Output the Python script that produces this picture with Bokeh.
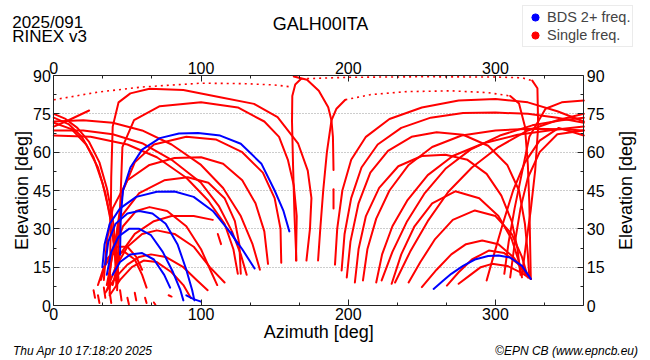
import math
from bokeh.plotting import figure
from bokeh.models import Range1d, LinearAxis, FixedTicker, Label, Legend, LegendItem
from bokeh.embed import file_html
from bokeh.resources import INLINE

# ---------------- data: satellite tracks as (azimuth, elevation) pairs ----------------
red_tracks = [
    # left fan, rising from the NE cluster and setting towards the SE
    [(38,4),(38.5,25),(39,50),(40,70),(44,79.5),(52,83),(65,84.8),(88,84.3),(113,81.5),(136,78.9),(152,73.7),(166,63.3),(172.5,52.8),(175,42),(174,30),(171.6,17.6)],
    [(43,6),(44,25),(45.5,45),(46.6,62),(54.5,72.5),(72,78),(100,79.5),(125,77.5),(143,72),(153,66),(159,57),(163,47),(165,35),(164.5,17.6)],
    [(42,10),(43,30),(47,45),(55,56),(68,63),(90,66),(110,65),(128,60),(142,52),(150,42),(154,30),(154.5,16.7)],
    [(34,10),(36,25),(40,38),(50,49),(65,55),(82,57.7),(100,58),(115,55.5),(128,49),(137,40),(143,29),(145.5,16.3)],
    [(37,8),(40,22),(46,35),(58,44),(75,49),(91,50.2),(105,48),(116,42),(123,33),(126,24),(127,12.4)],
    [(36,8),(40,20),(47,31),(56,37),(65,38.5),(77,37),(90,31),(100,22),(107,13),(111,8)],
    [(40,8),(45,20),(55,28),(68,33),(80,35),(95,35),(108,33.5)],
    [(36,6),(42,15),(50,23),(60,28),(70,29.4),(82,28),(95,23),(106,15),(116,9)],
    [(35,5),(42,11),(50,16),(58,19),(66,20),(76,19),(88,15),(97,10),(104.5,6)],
    [(38,4),(45,10),(53,15),(61,17.6),(70,17),(80,13),(88,8),(93,3)],
    [(30,8),(34,15),(40,20),(48,21),(55,18),(60,12),(63,7)],
    [(32,10),(36,18),(43,23),(50,23),(56,19),(60,14)],
    [(111.4,28),(113.6,24)],
    # near-zenith pass and crossing tracks
    [(164.8,17.6),(163.5,35),(162.5,55),(161.8,72),(162,82),(164,86.5),(168,88.7)],
    [(325,88),(328.5,85),(329,70),(327,53),(323.9,37),(320.5,23),(318,12)],
    [(163,89.6),(172,88.3),(180,84),(186.4,77.6),(188.6,72.4),(189.6,66),(190,53)],
    [(190,45.5),(190,38)],
    [(179.5,17.6),(181,30),(183,45),(185.5,60),(188.6,72.4),(192,77),(198,80.5)],
    [(310,82),(316,79),(320,70),(322,55),(323,40),(323.5,25),(324,10.4)],
    [(306,12.4),(309,25),(313,38),(318,52),(323,66),(334,77),(345,79.5),(360,80.2)],
    # right fan
    [(191,16),(192.5,30),(196,45),(202,57),(212,66),(228,73),(250,77.5),(275,80.2),(300,80.8),(322,79.5),(342,76),(360,72)],
    [(195.5,13.7),(197.5,28),(202,42),(209,54),(220,63),(236,69.5),(256,73.5),(278,75.3),(300,75.5),(322,75),(342,73.5),(360,71.5)],
    [(199,11),(201.5,25),(207,40),(215,52),(227,60.5),(243,66),(260,67.8),(278,66.8),(295,62.5),(308,55),(316,45),(320,32),(322,20),(323,11)],
    [(204.5,9),(207,22),(212,35),(221,46),(234,54.5),(250,58.5),(266,59),(281,57),(294,51.5),(304,43),(311,33),(315,22),(317,12)],
    [(210,9.8),(213,22),(219,34),(228,45),(241,55),(257,62),(277,66.5),(300,68.5),(325,69.2),(345,69),(360,68.5)],
    [(219,9),(223,20),(230,31),(240,41),(254,51),(271,58.5),(292,63.5),(315,66.8),(340,68.8),(360,70)],
    [(222.7,9.8),(230,21),(240,33),(252,44),(266,53.5),(283,61),(303,66.5),(325,70.5),(345,72.5),(360,73.5)],
    [(229.5,8.5),(236,20),(245,31),(257,40),(272.7,44.7),(289,42),(302,35),(311,26),(316,17),(318,11)],
    [(231.8,9),(242,21),(254,33),(268,44.5),(284,54),(302,62),(322,68.5),(342,72.5),(360,75)],
    [(241,9),(249,17),(259,26),(271,33.5),(286,37.2),(300,35),(311,28),(318,19),(322,11)],
    [(250,7.2),(260,14),(270,20),(280,24),(291,25.4),(302,24),(312,19),(320,13),(324,10.4)],
    [(267,7.8),(275,13),(284,18),(295.5,21.5),(306,20.5),(315,16.5),(321,12)],
    [(275,8.5),(283,12),(290,15),(297.7,16.3),(308,15.5),(317,13),(324,10.4)],
    [(294,9.8),(299,20),(305,32),(312,45),(320,56),(330,64.5),(343,69.5),(360,66.5)],
    [(310,11),(313,24),(317,38),(322,50),(330,60),(342,67),(360,68.5)],
    # continuation after the 360/0 wrap
    [(0,72),(20,72.5),(40,71.5),(60,68.5),(80,63),(100,55),(115,46),(127,35),(135,24),(140,14)],
    [(0,68.5),(20,68.5),(40,67),(60,63.5),(80,57),(100,48),(112,39),(121,29),(127,20),(131,12)],
    [(0,66.5),(25,66),(50,63),(70,58),(90,50),(105,41),(116,32),(122,22),(125,12.4)],
    [(0,75),(8,73),(16,69.5),(24,64),(31,56),(36,46),(40,34),(42.5,22),(44,10)],
    [(0,73.5),(10,71),(19,66),(27,58),(33,48),(38,36),(41,24),(43,12)],
    [(0,71.5),(12,69),(22,63),(30,54),(35,44),(39,32),(41.5,20),(42.5,8)],
    [(0,70),(10,72.5),(24,76.3)],
    # short low-elevation fragments
    [(27,6),(28,3)], [(30,4),(31,1)], [(34,7),(35,3)], [(38,5),(39,1)], [(45,6),(46,2)],
    [(50,3),(51,0.5)], [(55,5),(56,2)], [(62,3),(63,1)], [(68,1.2),(69,0.3)], [(78,4),(80,3.5)],
]

red_dotted = [
    [(0,80.5),(30,83.5),(60,85.5),(100,87),(130,86.8),(150,86.3),(161.8,85.5)],
    [(168,88.7),(200,89.3),(250,89.5),(300,89.4),(318,89.1),(325,88)],
    [(198,80.5),(215,82.5),(240,83.7),(270,84),(295,83.3),(310,82)],
]

blue_tracks = [
    [(45,20),(45.5,35),(47,45),(52,54),(60,61),(72,65.5),(85,67.3),(98,67.5),(113,66.5),(127,63.3),(141,55.5),(150,45),(156,37),(160,29)],
    [(33,15),(34.5,24),(38,32),(45,38),(56,42.5),(70,44.5),(82,44.6),(95,42.5),(108,37),(118,30),(128,22),(136.4,14.5)],
    [(35,16),(37,25),(42,32),(50,36),(58,37),(67,36),(76,32),(84,24),(90,14),(94,6),(95.5,2)],
    [(36,12),(39,21),(44,27),(51,30),(58,30),(66,27.5),(74,21),(81,13),(86,6),(88,2)],
    [(40,12),(45,17),(52,20),(60,20.5),(68,18),(75,12),(79,7)],
    [(90,4),(95,2.5),(100,1.5)],
    [(120.5,28.7),(122,27),(125,24)],
    [(258,6.5),(264,9.5),(270,12.4),(278,15.5),(286,18),(295,19.4),(302,19.6),(310,18.8),(318,15.5),(324,10.4)],
]

legend_labels = ["BDS 2+ freq.", "Single freq."]
x_ticks = [0, 100, 200, 300]
x_minor = [33.33, 66.67, 133.33, 166.67, 233.33, 266.67, 333.33]
y_ticks = [0, 15, 30, 45, 60, 75, 90]
y_minor = [7.5, 22.5, 37.5, 52.5, 67.5, 82.5]
grid_levels = [15, 30, 45, 60, 75]
AZ = (0, 360)
EL = (0, 90)

FONT = "Liberation Sans"
RED, BLUE = "#ff0000", "#0000ff"

# page layout: the sky box spans x 53.3..583.3 px and y 75..305 px of a 650x360 canvas
W, H = 650, 360
BOX_L, BOX_R, BOX_T, BOX_B = 53.3, 583.3, 75.0, 305.0
sx = (BOX_R - BOX_L) / (AZ[1] - AZ[0])
sy = (BOX_B - BOX_T) / (EL[1] - EL[0])
x_range = Range1d(AZ[0] - BOX_L / sx, AZ[1] + (W - BOX_R) / sx)
y_range = Range1d(EL[0] - (H - BOX_B) / sy, EL[1] + BOX_T / sy)


def split(tracks):
    return [[a for a, e in t] for t in tracks], [[e for a, e in t] for t in tracks]


p = figure(width=W, height=H, output_backend="svg", toolbar_location=None,
           x_range=x_range, y_range=y_range, min_border=0)
p.outline_line_color = None
p.background_fill_color = "white"
p.border_fill_color = "white"
p.xgrid.visible = False

grid_ok = True
try:
    p.ygrid.cross_bounds = AZ
    p.ygrid.ticker = FixedTicker(ticks=grid_levels)
    p.ygrid.grid_line_color = "#9a9a9a"
    p.ygrid.grid_line_dash = "1 2"
    p.ygrid.grid_line_width = 1
except Exception:
    grid_ok = False
    p.ygrid.visible = False
if not grid_ok:
    p.segment(x0=[AZ[0]] * len(grid_levels), x1=[AZ[1]] * len(grid_levels), y0=grid_levels,
              y1=grid_levels, line_color="#9a9a9a", line_dash="1 2", line_width=1)

top = LinearAxis(fixed_location=EL[1])
right = LinearAxis(fixed_location=AZ[1])
p.add_layout(top, "above")
p.add_layout(right, "right")
p.below[0].fixed_location = EL[0]
p.left[0].fixed_location = AZ[0]

for ax in p.xaxis:
    ax.ticker = FixedTicker(ticks=x_ticks, minor_ticks=x_minor)
    ax.bounds = AZ
for ax in p.yaxis:
    ax.ticker = FixedTicker(ticks=y_ticks, minor_ticks=y_minor)
    ax.bounds = EL
for ax in p.xaxis + p.yaxis:
    ax.axis_line_color = "#222222"
    ax.axis_line_width = 1
    ax.major_tick_in = 6
    ax.major_tick_out = 0
    ax.minor_tick_in = 3
    ax.minor_tick_out = 0
    ax.major_tick_line_color = "#222222"
    ax.minor_tick_line_color = "#222222"
    ax.major_label_text_font = FONT
    ax.major_label_text_font_size = "16px"
    ax.major_label_text_color = "black"
    ax.major_label_standoff = 3
top.major_label_standoff = 2
p.below[0].major_label_standoff = 2

xs, ys = split(red_dotted)
p.multi_line(xs, ys, line_color=RED, line_width=1.6, line_dash="2 4")
xs, ys = split(red_tracks)
p.multi_line(xs, ys, line_color=RED, line_width=2, line_join="round", line_cap="round")
xs, ys = split(blue_tracks)
p.multi_line(xs, ys, line_color=BLUE, line_width=2, line_join="round", line_cap="round")


def lab(x, y, text, size, align="left", style="normal", angle=0.0):
    # x, y in canvas pixels from the top-left corner
    p.add_layout(Label(x=x, y=H - y, x_units="screen", y_units="screen", text=text, angle=angle,
                       text_font=FONT, text_font_size=size, text_align=align,
                       text_baseline="alphabetic", text_font_style=style, text_color="black"))


lab(11.7, 22, "2025/091", "17px")
lab(11.7, 36, "RINEX v3", "17px")
lab(320, 23, "GALH00ITA", "18px", align="center")
lab(318.3, 331, "Azimuth [deg]", "18px", align="center")
lab(21.5, 190, "Elevation [deg]", "18px", align="center", angle=math.pi / 2)
lab(625, 190, "Elevation [deg]", "18px", align="center", angle=math.pi / 2)
lab(12.5, 350.5, "Thu Apr 10 17:18:20 2025", "12px", style="italic")
lab(637.5, 350.5, "\u00a9EPN CB (www.epncb.eu)", "12px", align="right", style="italic")

# legend keys: one (invisible, size 0) marker per series, taken from each series' first point
bt, rt = blue_tracks[0][0], red_tracks[0][0]
rb = p.scatter(x=[bt[0]], y=[bt[1]], marker="circle", size=0, color=BLUE)
rr = p.scatter(x=[rt[0]], y=[rt[1]], marker="circle", size=0, color=RED)
legend = Legend(items=[LegendItem(label=legend_labels[0], renderers=[rb], index=0),
                       LegendItem(label=legend_labels[1], renderers=[rr], index=0)],
                location=(522, H - 46.7), glyph_width=20, glyph_height=18, padding=2, spacing=0,
                margin=0, label_standoff=2, label_text_font=FONT, label_text_font_size="14.5px",
                border_line_color="#d8d8d8", border_line_width=1, background_fill_alpha=1.0)
p.add_layout(legend)

open("out.html", "w").write(file_html(p, INLINE))
